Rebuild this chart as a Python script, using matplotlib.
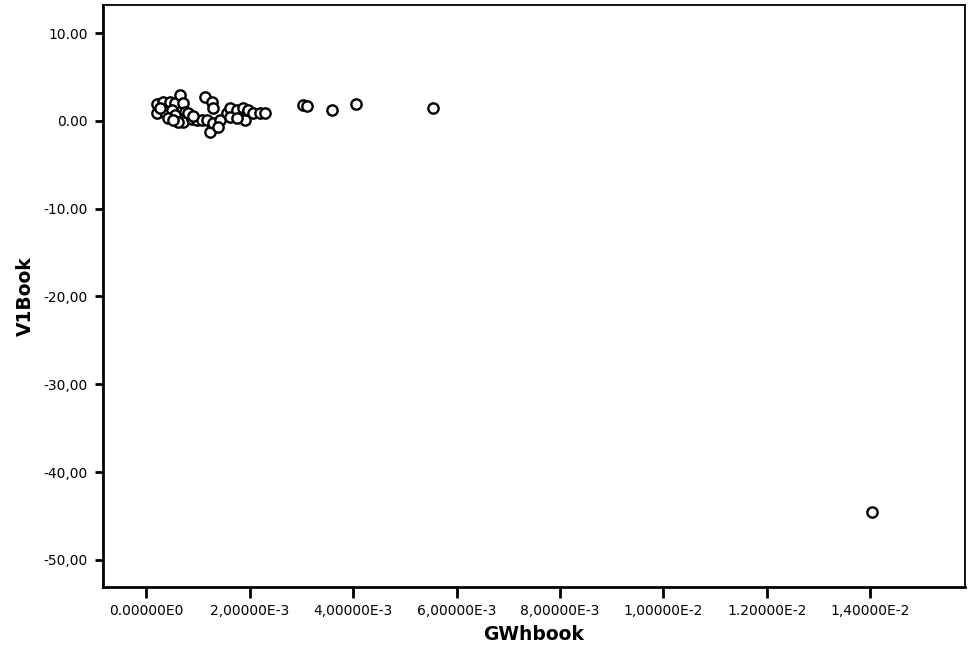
import numpy as np
import matplotlib.pyplot as plt

plt.rcParams['font.family'] = ['DejaVu Sans']

# GWhbook vs V1Book
gwh = np.array([0.000207, 0.000207, 0.000334, 0.000367, 0.000464, 0.000560, 0.000497,
                0.000657, 0.000721, 0.000754, 0.000657, 0.000721, 0.000883, 0.000980,
                0.001076, 0.001173, 0.001140, 0.001270, 0.001300, 0.001237, 0.001300,
                0.001430, 0.001559, 0.001623, 0.001753, 0.001880, 0.001946, 0.001913,
                0.001977, 0.002073, 0.002203, 0.002300, 0.001623, 0.001753, 0.001397,
                0.000270, 0.000560, 0.000810, 0.000430, 0.000620, 0.000520, 0.000900,
                0.003034, 0.003111, 0.003594, 0.004058, 0.005546, 0.014030])
v1 = np.array([1.91, 0.85, 2.17, 1.04, 2.17, 2.06, 1.23,
               2.94, 1.99, 1.04, 0.17, -0.10, 0.17, 0.09,
               0.09, 0.09, 2.74, 2.17, 1.42, -1.24, -0.28,
               0.09, 0.85, 1.42, 1.23, 1.42, 0.85, 0.09,
               1.23, 0.85, 0.85, 0.85, 0.47, 0.28, -0.67,
               1.46, 0.66, 0.89, 0.32, -0.14, 0.05, 0.60,
               1.80, 1.69, 1.23, 1.91, 1.46, -44.5])

xticks = [0.0, 0.002, 0.004, 0.006, 0.008, 0.010, 0.012, 0.014]
xlabels = ['0.00000E0', '2,00000E-3', '4,00000E-3', '6,00000E-3', '8,00000E-3',
           '1,00000E-2', '1.20000E-2', '1,40000E-2']
yticks = [10, 0, -10, -20, -30, -40, -50]
ylabels = ['10.00', '0.00', '-10.00', '-20,00', '-30,00', '-40,00', '-50,00']

fig = plt.figure(figsize=(9.7, 6.47), dpi=100)
ax = fig.add_axes([0.1059, 0.0927, 0.8889, 0.8996])

ax.scatter(gwh, v1, s=55, facecolors='white', edgecolors='black', linewidths=1.7, zorder=3)

ax.set_xlim(-0.000837, 0.015826)
ax.set_ylim(-53.1, 13.2)
ax.set_xticks(xticks)
ax.set_xticklabels(xlabels)
ax.set_yticks(yticks)
ax.set_yticklabels(ylabels)

ax.tick_params(axis='x', length=8, width=2, pad=4, labelsize=10)
ax.tick_params(axis='y', length=6, width=2, pad=5, labelsize=10)
ax.spines['left'].set_linewidth(2)
ax.spines['bottom'].set_linewidth(2)
ax.spines['top'].set_linewidth(1.3)
ax.spines['right'].set_linewidth(1.3)

ax.set_xlabel('GWhbook', fontsize=13.5, fontweight='bold', labelpad=5)
ax.set_ylabel('V1Book', fontsize=13.5, fontweight='bold', labelpad=6)

fig.savefig('out.png', dpi=100)
